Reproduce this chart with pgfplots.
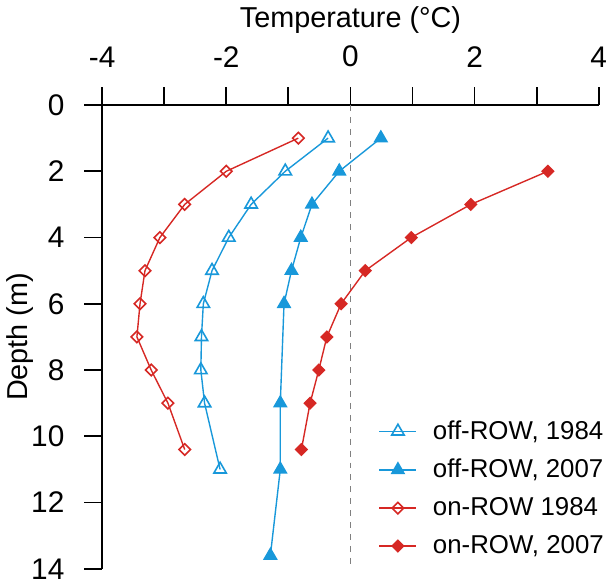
\documentclass[border=0pt]{standalone}
\usepackage{pgfplots}
\pgfplotsset{compat=1.18}
\usepackage{fontspec}
\setmainfont{Liberation Sans}
\definecolor{offblue}{RGB}{24,152,218}
\definecolor{onred}{RGB}{214,40,36}
\begin{document}
\begin{tikzpicture}
\begin{axis}[
    scale only axis,
    width=250pt, height=233.5pt,
    xmin=-4, xmax=4, ymin=0, ymax=14,
    y dir=reverse,
    axis x line=top, axis y line=left,
    axis line style={-, line width=0.9pt},
    xtick={-4,-2,0,2,4},
    minor xtick={-3,-1,1,3},
    ytick={0,2,...,14},
    tick align=outside,
    major tick length=9pt, minor tick length=9pt,
    tick style={black, line width=0.9pt},
    /pgf/number format/assume math mode=true,
    ticklabel style={font=\fontsize{15}{17}\selectfont},
    xticklabel style={inner xsep=0pt},
    xticklabel shift=6.5pt, yticklabel shift=6.5pt,
    xlabel={Temperature (°C)}, ylabel={Depth (m)},
    label style={font=\fontsize{14.5}{17}\selectfont},
    xlabel style={yshift=-0.5pt},
    ylabel style={yshift=-8pt},
    legend style={at={(1.015,0.017)}, anchor=south east, draw=none, fill=none,
        inner sep=0pt, font=\fontsize{13}{15}\selectfont, row sep=4.5pt,
        nodes={inner xsep=1pt},
        /tikz/every odd column/.append style={column sep=7pt}},
    legend image code/.code={%
        \draw[mark repeat=2, mark phase=2] plot coordinates {(0pt,0pt) (9.3pt,0pt) (18.6pt,0pt)};},
    legend cell align={left},
]
\addplot[gray, dashed, line width=0.5pt, forget plot] coordinates {(0,0) (0,14)};

% off-ROW 1984
\addplot[offblue, line width=0.7pt, mark=triangle, mark size=3.6pt,
    mark options={solid, line width=0.8pt}] coordinates {
    (-0.36,1) (-1.05,2) (-1.60,3) (-1.96,4) (-2.23,5) (-2.37,6)
    (-2.40,7) (-2.41,8) (-2.35,9) (-2.10,11)
};
\addlegendentry{off-ROW, 1984}

% off-ROW 2007
\addplot[offblue, line width=0.7pt, mark=triangle*, mark size=3.6pt,
    mark options={solid, fill=offblue}] coordinates {
    (0.49,1) (-0.18,2) (-0.62,3) (-0.80,4) (-0.95,5) (-1.07,6)
    (-1.13,9) (-1.13,11) (-1.29,13.6)
};
\addlegendentry{off-ROW, 2007}

% on-ROW 1984
\addplot[onred, line width=0.7pt, mark=square, mark size=2.05pt,
    mark options={solid, rotate=45, line width=0.8pt}] coordinates {
    (-0.84,1) (-2.00,2) (-2.67,3) (-3.07,4) (-3.31,5) (-3.39,6)
    (-3.44,7) (-3.21,8) (-2.94,9) (-2.67,10.4)
};
\addlegendentry{on-ROW 1984}

% on-ROW 2007
\addplot[onred, line width=0.7pt, mark=square*, mark size=2.05pt,
    mark options={solid, rotate=45, fill=onred}] coordinates {
    (3.18,2) (1.94,3) (0.98,4) (0.24,5) (-0.15,6) (-0.38,7)
    (-0.51,8) (-0.65,9) (-0.79,10.4)
};
\addlegendentry{on-ROW, 2007}
\end{axis}
\end{tikzpicture}
\end{document}
